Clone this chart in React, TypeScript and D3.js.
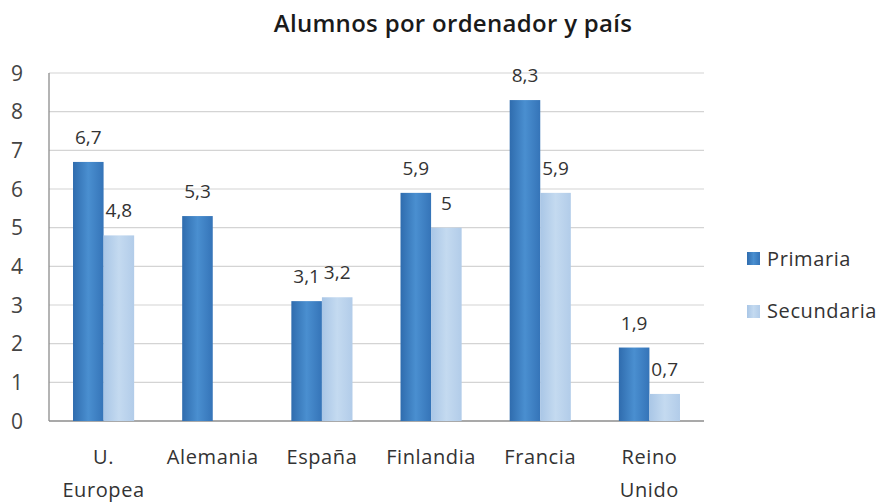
import React from "react";
import * as d3 from "d3";

const categories = [["U.", "Europea"], ["Alemania"], ["España"], ["Finlandia"], ["Francia"], ["Reino", "Unido"]];
const primaria = [6.7, 5.3, 3.1, 5.9, 8.3, 1.9];
const secundaria: (number | null)[] = [4.8, null, 3.2, 5, 5.9, 0.7];
const yTicks = [0, 1, 2, 3, 4, 5, 6, 7, 8, 9];
const seriesNames = ["Primaria", "Secundaria"];

const W = 891, H = 502;
const left = 49, right = 704, top = 73, bottom = 421;
const font = "'Open Sans', Lato, sans-serif";

function fmt(v: number) {
  return String(v).replace(".", ",");
}

export default function App() {
  const x = d3.scaleBand<number>().domain(d3.range(categories.length)).range([left, right]).paddingInner(0.44).paddingOuter(0.22);
  const y = d3.scaleLinear().domain([0, 9]).range([bottom, top]);
  const bw = x.bandwidth() / 2;
  const series = [primaria, secundaria];
  return (
    <svg width={W} height={H} style={{ position: "absolute", left: 0, top: 0, background: "#fff" }}>
      <defs>
        <linearGradient id="g0" x1="0" x2="1" y1="0" y2="0">
          <stop offset="0" stopColor="#2f6cae" />
          <stop offset="0.5" stopColor="#4a8fd0" />
          <stop offset="1" stopColor="#3574b8" />
        </linearGradient>
        <linearGradient id="g1" x1="0" x2="1" y1="0" y2="0">
          <stop offset="0" stopColor="#a9c6e6" />
          <stop offset="0.5" stopColor="#c4daf0" />
          <stop offset="1" stopColor="#b2cce9" />
        </linearGradient>
      </defs>
      <rect width={W} height={H} fill="#fff" />
      <text x={453} y={32} textAnchor="middle" fontFamily={font} fontWeight={600} fontSize={24} letterSpacing={0.3} fill="#1a1a1a">
        Alumnos por ordenador y país
      </text>
      {yTicks.map((t) => (
        <g key={t}>
          {t > 0 && <line x1={left} x2={right} y1={y(t)} y2={y(t)} stroke="#d4d4d4" strokeWidth={1.2} />}
          <text x={17} y={y(t) + 7.5} textAnchor="middle" fontFamily={font} fontSize={21} fill="#444">
            {t}
          </text>
        </g>
      ))}
      <line x1={left} x2={left} y1={top} y2={bottom} stroke="#8c8c8c" strokeWidth={1.3} />
      <line x1={left} x2={right} y1={bottom} y2={bottom} stroke="#8c8c8c" strokeWidth={1.3} />
      {series.map((s, si) =>
        s.map((v, i) =>
          v == null ? null : (
            <g key={`${si}-${i}`}>
              <rect x={(x(i) as number) + si * bw} y={y(v)} width={bw} height={bottom - y(v)} fill={`url(#g${si})`} />
              <text x={(x(i) as number) + si * bw + bw / 2} y={y(v) - 18} textAnchor="middle" fontFamily={font} fontSize={19} fill="#333">
                {fmt(v)}
              </text>
            </g>
          )
        )
      )}
      {categories.map((c, i) => (
        <text key={i} textAnchor="middle" fontFamily={font} fontSize={20} letterSpacing={0.6} fill="#333">
          {c.map((line, li) => (
            <tspan key={li} x={(x(i) as number) + x.bandwidth() / 2} y={464 + li * 33}>
              {line}
            </tspan>
          ))}
        </text>
      ))}
      {seriesNames.map((n, i) => (
        <g key={n}>
          <rect x={747} y={252 + i * 53} width={13} height={13} fill={`url(#g${i})`} />
          <text x={767} y={266 + i * 52} fontFamily={font} fontSize={20} letterSpacing={0.6} fill="#333">
            {n}
          </text>
        </g>
      ))}
    </svg>
  );
}
